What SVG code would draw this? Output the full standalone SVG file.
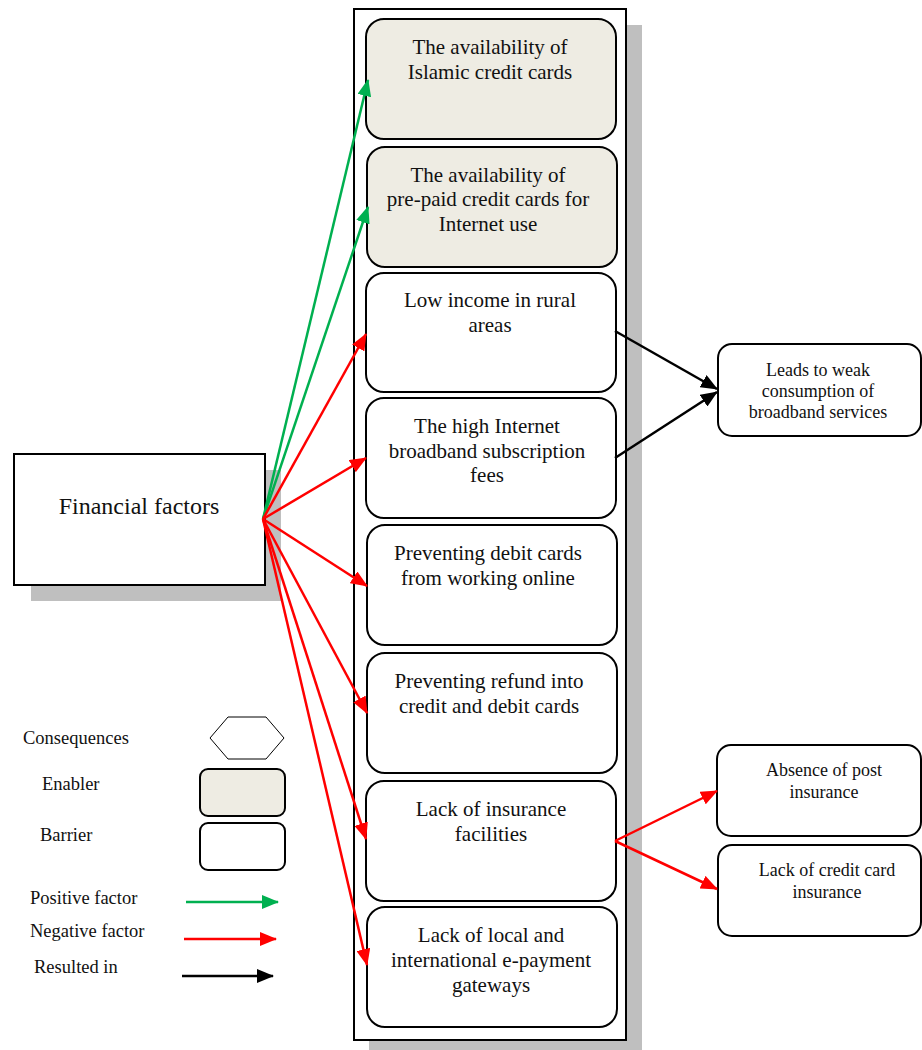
<svg xmlns="http://www.w3.org/2000/svg" width="922" height="1050" viewBox="0 0 922 1050">
  <style>
    .box { fill: #ffffff; stroke: #000000; stroke-width: 2; }
    .enabler { fill: #EEECE3; stroke: #000000; stroke-width: 2; }
    .shadow { fill: #BFBFBF; stroke: none; }
    .t { font-family: "Liberation Serif", "Times New Roman", serif; fill: #111111; text-anchor: middle; }
    .tb { font-size: 21px; }
    .ts { font-size: 18px; }
    .leg { font-family: "Liberation Serif", "Times New Roman", serif; font-size: 18.5px; fill: #111111; }
    .pos { stroke: #00B050; stroke-width: 2.5; fill: none; }
    .neg { stroke: #FF0000; stroke-width: 2.5; fill: none; }
    .res { stroke: #000000; stroke-width: 2.5; fill: none; }
  </style>
  <defs>
    <marker id="arrGreen" markerUnits="userSpaceOnUse" markerWidth="18" markerHeight="14" refX="16" refY="7" orient="auto">
      <path d="M0,0 L17,7 L0,14 z" fill="#00B050"/>
    </marker>
    <marker id="arrRed" markerUnits="userSpaceOnUse" markerWidth="18" markerHeight="14" refX="16" refY="7" orient="auto">
      <path d="M0,0 L17,7 L0,14 z" fill="#FF0000"/>
    </marker>
    <marker id="arrBlack" markerUnits="userSpaceOnUse" markerWidth="18" markerHeight="14" refX="16" refY="7" orient="auto">
      <path d="M0,0 L17,7 L0,14 z" fill="#000000"/>
    </marker>
  </defs>

  <rect width="922" height="1050" fill="#ffffff"/>

  <!-- container column with drop shadow -->
  <g id="factor-column">
    <rect class="shadow" x="369" y="25" width="273" height="1025"/>
    <rect x="354" y="9" width="272" height="1031" fill="#ffffff" stroke="#000000" stroke-width="2"/>
  </g>

  <!-- source node -->
  <g id="financial-factors">
    <rect class="shadow" x="31" y="470" width="250" height="131"/>
    <rect x="14" y="454" width="251" height="131" fill="#ffffff" stroke="#000000" stroke-width="2"/>
    <text class="t" x="139" y="514" font-size="24">Financial factors</text>
  </g>

  <g id="islamic-credit-cards">
    <rect class="enabler" x="366" y="19" width="250" height="120" rx="18"/>
    <text class="t tb" x="490" y="54">The availability of</text>
    <text class="t tb" x="490" y="79">Islamic credit cards</text>
  </g>

  <g id="prepaid-credit-cards">
    <rect class="enabler" x="367" y="147" width="250" height="120" rx="18"/>
    <text class="t tb" x="488" y="182">The availability of</text>
    <text class="t tb" x="488" y="206">pre-paid credit cards for</text>
    <text class="t tb" x="488" y="231">Internet use</text>
  </g>

  <g id="low-income">
    <rect class="box" x="366" y="273" width="250" height="119" rx="18"/>
    <text class="t tb" x="490" y="307">Low income in rural</text>
    <text class="t tb" x="490" y="332">areas</text>
  </g>

  <g id="subscription-fees">
    <rect class="box" x="366" y="398" width="250" height="120" rx="18"/>
    <text class="t tb" x="487" y="433">The high Internet</text>
    <text class="t tb" x="487" y="458">broadband subscription</text>
    <text class="t tb" x="487" y="482">fees</text>
  </g>

  <g id="debit-cards-online">
    <rect class="box" x="367" y="525" width="250" height="120" rx="18"/>
    <text class="t tb" x="488" y="560">Preventing debit cards</text>
    <text class="t tb" x="488" y="585">from working online</text>
  </g>

  <g id="refund">
    <rect class="box" x="367" y="653" width="250" height="120" rx="18"/>
    <text class="t tb" x="489" y="688">Preventing refund into</text>
    <text class="t tb" x="489" y="713">credit and debit cards</text>
  </g>

  <g id="insurance-facilities">
    <rect class="box" x="366" y="781" width="250" height="120" rx="18"/>
    <text class="t tb" x="491" y="816">Lack of insurance</text>
    <text class="t tb" x="491" y="841">facilities</text>
  </g>

  <g id="payment-gateways">
    <rect class="box" x="367" y="907" width="250" height="120" rx="18"/>
    <text class="t tb" x="491" y="942">Lack of local and</text>
    <text class="t tb" x="491" y="967">international e-payment</text>
    <text class="t tb" x="491" y="992">gateways</text>
  </g>

  <g id="weak-consumption">
    <rect class="box" x="718" y="344" width="203" height="92" rx="14"/>
    <text class="t ts" x="818" y="376">Leads to weak</text>
    <text class="t ts" x="818" y="397">consumption of</text>
    <text class="t ts" x="818" y="418">broadband services</text>
  </g>

  <g id="post-insurance">
    <rect class="box" x="717" y="745" width="204" height="91" rx="14"/>
    <text class="t ts" x="824" y="776">Absence of post</text>
    <text class="t ts" x="824" y="798">insurance</text>
  </g>

  <g id="credit-card-insurance">
    <rect class="box" x="718" y="845" width="203" height="91" rx="14"/>
    <text class="t ts" x="827" y="876">Lack of credit card</text>
    <text class="t ts" x="827" y="898">insurance</text>
  </g>

  <!-- connectors -->
  <g id="connectors">
    <line class="pos" x1="263" y1="519" x2="368" y2="80" marker-end="url(#arrGreen)"/>
    <line class="pos" x1="263" y1="519" x2="368" y2="207" marker-end="url(#arrGreen)"/>
    <line class="neg" x1="263" y1="519" x2="366" y2="334" marker-end="url(#arrRed)"/>
    <line class="neg" x1="263" y1="519" x2="366" y2="458" marker-end="url(#arrRed)"/>
    <line class="neg" x1="263" y1="519" x2="367" y2="586" marker-end="url(#arrRed)"/>
    <line class="neg" x1="263" y1="519" x2="367" y2="713" marker-end="url(#arrRed)"/>
    <line class="neg" x1="263" y1="519" x2="366" y2="839" marker-end="url(#arrRed)"/>
    <line class="neg" x1="263" y1="519" x2="367" y2="965" marker-end="url(#arrRed)"/>
    <line class="res" x1="615" y1="331" x2="717" y2="389" marker-end="url(#arrBlack)"/>
    <line class="res" x1="615" y1="458" x2="717" y2="392" marker-end="url(#arrBlack)"/>
    <line class="neg" x1="615" y1="841" x2="717" y2="791" marker-end="url(#arrRed)"/>
    <line class="neg" x1="615" y1="841" x2="717" y2="889" marker-end="url(#arrRed)"/>
  </g>

  <!-- key -->
  <g id="legend">
    <text class="leg" x="23" y="744">Consequences</text>
    <polygon points="210,738 228,717 266,717 284,738 266,759 228,759" fill="#ffffff" stroke="#000000" stroke-width="1"/>
    <text class="leg" x="42" y="790">Enabler</text>
    <rect class="enabler" x="200" y="769" width="85" height="47" rx="8"/>
    <text class="leg" x="40" y="841">Barrier</text>
    <rect class="box" x="200" y="823" width="85" height="47" rx="8"/>
    <text class="leg" x="30" y="904">Positive factor</text>
    <line class="pos" x1="186" y1="902" x2="278" y2="902" marker-end="url(#arrGreen)"/>
    <text class="leg" x="30" y="937">Negative factor</text>
    <line class="neg" x1="184" y1="939" x2="276" y2="939" marker-end="url(#arrRed)"/>
    <text class="leg" x="34" y="973">Resulted in</text>
    <line class="res" x1="182" y1="976" x2="273" y2="976" marker-end="url(#arrBlack)"/>
  </g>
</svg>
